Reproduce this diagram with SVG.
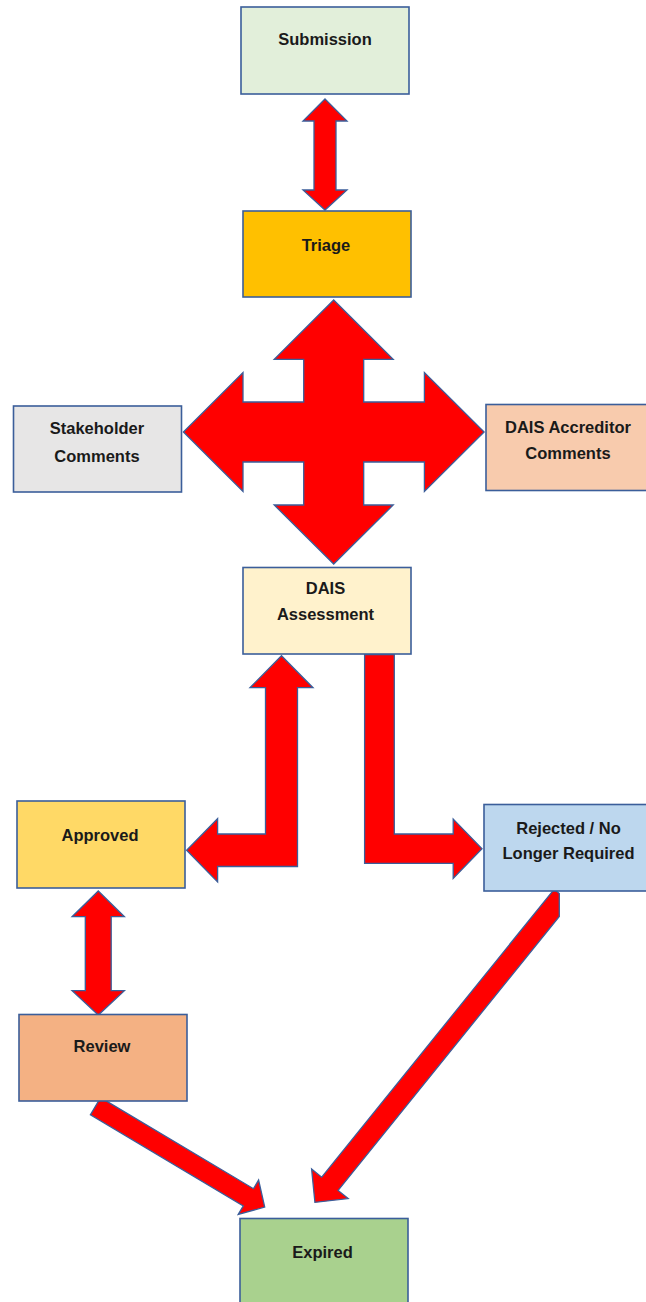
<svg xmlns="http://www.w3.org/2000/svg" width="646" height="1302" viewBox="0 0 646 1302">
<style>
.box{stroke:#3B5E9A;stroke-width:1.6}
.arr{fill:#FF0000;stroke:#3B5E9A;stroke-width:1.3;stroke-linejoin:miter}
.lbl{font-family:"Liberation Sans",Arial,sans-serif;font-weight:bold;font-size:16.5px;fill:#1A1A1A;text-anchor:middle}
</style>
<rect width="646" height="1302" fill="#FFFFFF"/>
<g id="connectors">
<polygon class="arr" points="325,99 347,121 336,121 336,190 347,190 325,210 303,190 314,190 314,121 303,121"/>
<polygon class="arr" points="333.7,300 393.2,359.3 363.7,359.3 363.7,402 424.4,402 424.4,372.5 484.1,432 424.4,491.5 424.4,462 363.7,462 363.7,505 393.2,505 333.7,564 274.2,505 303.7,505 303.7,462 243,462 243,491.5 183.4,432 243,372.5 243,402 303.7,402 303.7,359.3 274.2,359.3"/>
<polygon class="arr" points="281.5,655.7 313,687.7 297.5,687.7 297.5,866.5 217.6,866.5 217.6,882 186.6,850.3 217.6,818.7 217.6,834 265.5,834 265.5,687.7 250,687.7"/>
<polygon class="arr" points="364.6,654.5 394.3,654.5 394.3,834 453.2,834 453.2,819 482,848.7 453.2,878.5 453.2,863.3 364.6,863.3"/>
<polygon class="arr" points="98.3,891 124.4,916.7 111.2,916.7 111.2,990.7 124.4,990.7 98.3,1015 72.1,990.7 85.3,990.7 85.3,916.7 72.1,916.7"/>
<polygon class="arr" points="100.6,1097.6 253.5,1188.7 258.6,1180.1 264.7,1207.1 238.2,1214.5 243.3,1205.9 90.4,1114.8"/>
<polygon class="arr" points="554.1,889.3 559.3,893.5 559.3,916.4 338.1,1190.4 348.2,1198.6 314.9,1202.4 311.6,1169 321.7,1177.2"/>
</g>
<g id="submission">
<rect class="box" x="241" y="7" width="168" height="87" fill="#E2EFDA"/>
<text class="lbl" x="325" y="45">Submission</text>
</g>
<g id="triage">
<rect class="box" x="243" y="211" width="168" height="86" fill="#FFC000"/>
<text class="lbl" x="326" y="251">Triage</text>
</g>
<g id="stakeholder">
<rect class="box" x="13.5" y="406" width="168" height="86" fill="#E7E6E6"/>
<text class="lbl" x="97" y="434">Stakeholder</text>
<text class="lbl" x="97" y="461.5">Comments</text>
</g>
<g id="accreditor">
<rect class="box" x="486" y="404.5" width="168" height="86" fill="#F8CBAD"/>
<text class="lbl" x="568" y="432.5">DAIS Accreditor</text>
<text class="lbl" x="568" y="458.5">Comments</text>
</g>
<g id="assessment">
<rect class="box" x="243" y="567.5" width="168" height="86.5" fill="#FFF2CC"/>
<text class="lbl" x="325.5" y="593.5">DAIS</text>
<text class="lbl" x="325.5" y="620">Assessment</text>
</g>
<g id="approved">
<rect class="box" x="17" y="801" width="168" height="87" fill="#FFD966"/>
<text class="lbl" x="100" y="840.5">Approved</text>
</g>
<g id="rejected">
<rect class="box" x="484" y="804.5" width="168" height="86.5" fill="#BDD7EE"/>
<text class="lbl" x="568.5" y="833.5">Rejected / No</text>
<text class="lbl" x="568.5" y="859">Longer Required</text>
</g>
<g id="review">
<rect class="box" x="19" y="1014.5" width="168" height="86.5" fill="#F4B183"/>
<text class="lbl" x="102" y="1051.5">Review</text>
</g>
<g id="expired">
<rect class="box" x="240" y="1218.5" width="168" height="88" fill="#A9D18E"/>
<text class="lbl" x="322.5" y="1257.5">Expired</text>
</g>
</svg>
